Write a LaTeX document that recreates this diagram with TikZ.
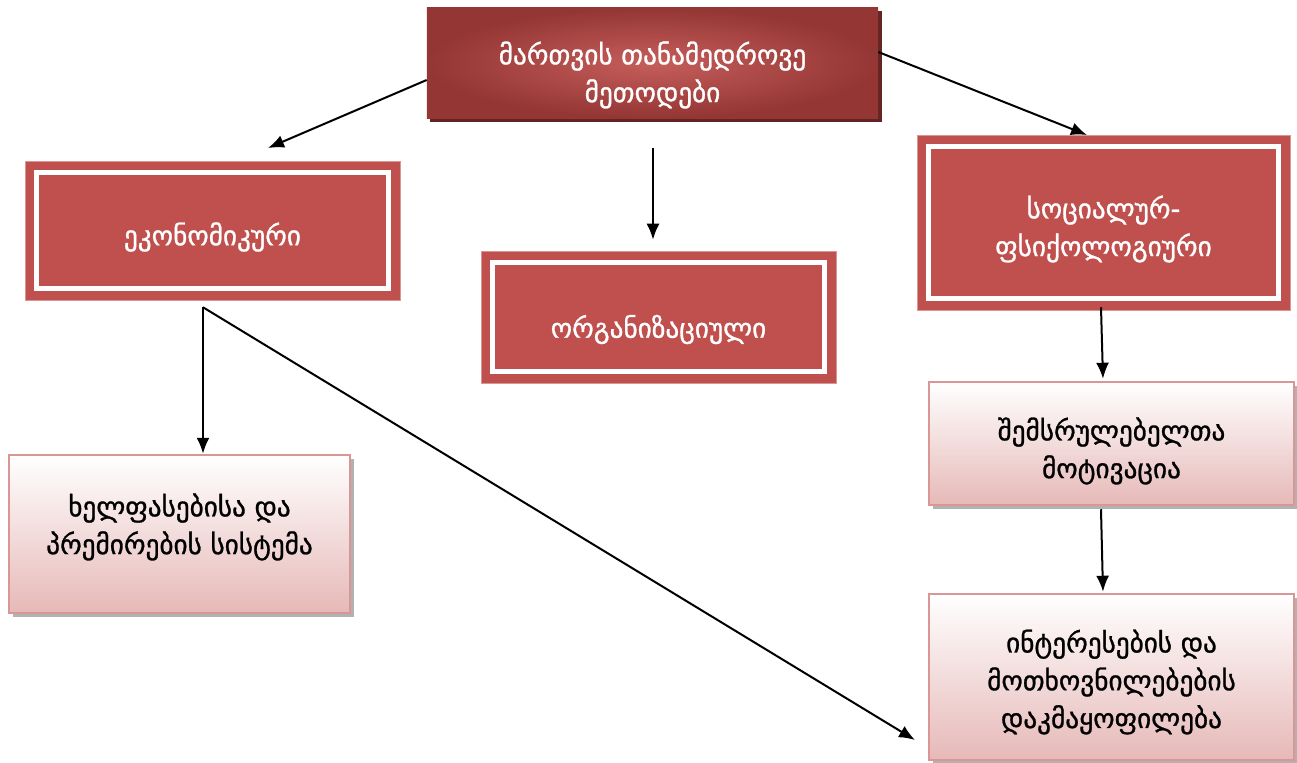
\documentclass[tikz,border=0pt]{standalone}
\usepackage{fontspec}
\newfontfamily\geofont[Script=Georgian, FakeBold=1]{DejaVu Sans}
\usepackage{xcolor}
\usetikzlibrary{calc, arrows.meta, shadows}
\definecolor{mainred}{HTML}{C0504D}
\definecolor{darkred}{HTML}{943634}
\definecolor{shadowred}{HTML}{632523}
\definecolor{pinkedge}{HTML}{D99694}
\definecolor{pinkfill}{HTML}{E6B9B8}
\tikzset{>={Latex[length=3.2mm,width=2.6mm]}}
\tikzset{
  boxtext/.style={align=center, font={\geofont\fontsize{15.5}{21.5}\selectfont}},
  whitetext/.style={boxtext, text=white},
  blacktext/.style={boxtext, text=black},
  headbox/.style={rectangle, inner color=mainred!92!white, outer color=darkred,
    drop shadow={shadow xshift=0.7mm, shadow yshift=-0.7mm, fill=shadowred, opacity=1}},
  redbox/.style={rectangle, fill=mainred, draw=pinkedge, line width=0.3pt,
    path picture={\draw[white, line width=1mm]
      ([shift={(2.3mm,-2.3mm)}]path picture bounding box.north west) rectangle
      ([shift={(-2.3mm,2.3mm)}]path picture bounding box.south east);}},
  pinkbox/.style={rectangle, top color=white, bottom color=pinkfill, draw=pinkedge,
    line width=0.5mm,
    drop shadow={shadow xshift=0.8mm, shadow yshift=-0.8mm, fill=black!30, opacity=1}},
  link/.style={->, line width=0.4mm}
}
\begin{document}
\begin{tikzpicture}[x=0.2mm, y=-0.2mm]
  \useasboundingbox (0,0) rectangle (1297,763);

  % BOXES
  \node[headbox, minimum width=90.2mm, minimum height=22mm,
    label={[whitetext, yshift=-2.4mm]center:{მართვის თანამედროვე\\მეთოდები}}] (meth) at (652.5,63) {};
  \node[redbox, minimum width=75mm, minimum height=27.8mm,
    label={[whitetext, yshift=-1.3mm]center:{ეკონომიკური}}] (econ) at (212.5,230.5) {};
  \node[redbox, minimum width=71mm, minimum height=26.4mm,
    label={[whitetext, yshift=-2.5mm]center:{ორგანიზაციული}}] (org) at (658.5,317) {};
  \node[redbox, minimum width=74.6mm, minimum height=35mm,
    label={[whitetext, yshift=-1.3mm]center:{სოციალურ-\\ფსიქოლოგიური}}] (soc) at (1103.5,222.5) {};
  \node[pinkbox, minimum width=68.2mm, minimum height=31.6mm,
    label={[blacktext, yshift=1.4mm]center:{ხელფასებისა და\\პრემირების სისტემა}}] (wage) at (179.5,534) {};
  \node[pinkbox, minimum width=73mm, minimum height=24.6mm,
    label={[blacktext, yshift=-1.5mm]center:{შემსრულებელთა\\მოტივაცია}}] (motiv) at (1111.5,443.5) {};
  \node[pinkbox, minimum width=73mm, minimum height=33.2mm,
    label={[blacktext, yshift=-1mm]center:{ინტერესების და\\მოთხოვნილებების\\დაკმაყოფილება}}] (need) at (1111.5,677) {};

  % ENDS
  \coordinate (L1) at ($(meth.west)+(0,17)$);
  \coordinate (L2) at (268,148);
  \coordinate (R1) at ($(meth.east)+(0,-11)$);
  \coordinate (R2) at (1087,135);
  \coordinate (C1) at (653,148);
  \coordinate (C2) at ($(org.north)+(-5.5,-11)$);
  \coordinate (E1) at ($(econ.south)+(-9.5,7)$);
  \coordinate (E2) at (915,740);
  \coordinate (S1) at ($(soc.south)+(-2.5,-3)$);
  \coordinate (S2) at ($(motiv.north)+(-8.5,-2)$);
  \coordinate (M1) at ($(motiv.south)+(-10.5,3)$);
  \coordinate (M2) at ($(need.north)+(-8.5,-1)$);

  % ARROWS
  \draw[link] (L1) -- (L2);
  \draw[link] (R1) -- (R2);
  \draw[link] (C1) -- (C2);
  \draw[link] (E1) -- (E1 |- wage.north);
  \draw[link] (E1) -- (E2);
  \draw[link] (S1) -- (S2);
  \draw[link] (M1) -- (M2);
\end{tikzpicture}
\end{document}
